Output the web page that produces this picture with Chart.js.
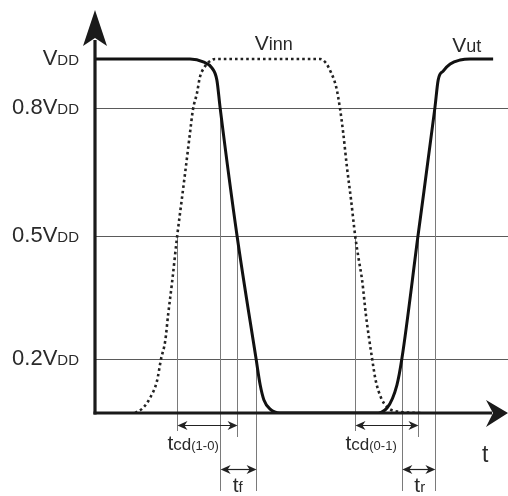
<!DOCTYPE html>
<html><head><meta charset="utf-8">
<script src="https://cdn.jsdelivr.net/npm/chart.js@4/dist/chart.umd.min.js"></script>
<style>html,body{margin:0;padding:0;background:#fff;}canvas{display:block;}</style>
</head><body>
<canvas id="c" width="508" height="496"></canvas>
<script>
// Time in arbitrary units, voltage as fraction of VDD (diagram scale)
const voutT = [0, 23.0, 26.2, 28.3, 29.5, 30.3, 34.4, 39.0, 40.0, 40.9, 42.4, 44.8, 67.8, 70.7, 73.1, 74.3, 78.2, 82.3, 83.1, 84.3, 86.0, 88.4, 90.8, 96.4];
const voutV = [1, 1, 0.992, 0.975, 0.941, 0.862, 0.5, 0.153, 0.079, 0.037, 0.011, 0, 0, 0.014, 0.079, 0.153, 0.5, 0.862, 0.941, 0.966, 0.986, 0.997, 1, 1];
const vinT = [9.7, 11.6, 13.3, 15.0, 16.0, 17.0, 17.7, 18.7, 19.9, 21.0, 22.0, 23.0, 23.7, 24.7, 25.4, 26.4, 27.6, 29.1, 54.5, 55.9, 57.1, 58.4, 59.3, 60.1, 61.0, 62.0, 63.0, 63.8, 64.7, 65.6, 67.1, 68.0, 69.3, 70.7, 72.4, 78.9];
const vinV = [0, 0.014, 0.042, 0.090, 0.153, 0.203, 0.277, 0.373, 0.5, 0.602, 0.695, 0.791, 0.856, 0.904, 0.949, 0.975, 0.992, 1, 1, 0.989, 0.963, 0.921, 0.862, 0.791, 0.695, 0.602, 0.5, 0.438, 0.373, 0.277, 0.153, 0.090, 0.042, 0.017, 0.006, 0];
const seriesNames = ['Vut', 'Vinn'];

const levelValues = [1.0, 0.862, 0.5, 0.153];
const levelLabels = ['VDD', '0.8VDD', '0.5VDD', '0.2VDD'];

const intervalNames = ['tcd(1-0)', 'tf', 'tcd(0-1)', 'tr'];
const intervalStart = [19.85, 30.3, 62.95, 74.3];
const intervalEnd = [34.4, 39.0, 78.2, 82.3];
const intervalStartLevel = [0.5, 0.862, 0.5, 0.153];
const intervalEndLevel = [0.5, 0.153, 0.5, 0.862];

const FAM = '"Liberation Sans", Arial, Helvetica, sans-serif';
const INK = '#1a1a1a';

function drawParts(ctx, parts, x, y, align) {
  let w = 0;
  parts.forEach(p => { ctx.font = p[1] + 'px ' + FAM; w += ctx.measureText(p[0]).width; });
  let cx = align === 'right' ? x - w : x;
  parts.forEach(p => { ctx.font = p[1] + 'px ' + FAM; ctx.fillText(p[0], cx, y); cx += ctx.measureText(p[0]).width; });
}
function levelParts(lab) { return [[lab.slice(0, -2), 22], ['DD', 15]]; }
function intervalParts(lab) {
  const sub = lab.slice(1);
  const k = sub.indexOf('(');
  if (k < 0) return [['t', 21], [sub, 15]];
  return [['t', 21], [sub.slice(0, k), 17], [sub.slice(k), 13]];
}
function seriesParts(lab) { return [[lab[0], 21], [lab.slice(1), 18]]; }

function smallHead(ctx, x, y, dir) {
  ctx.beginPath();
  ctx.moveTo(x, y);
  ctx.lineTo(x - dir * 10, y - 4.5);
  ctx.lineTo(x - dir * 7, y);
  ctx.lineTo(x - dir * 10, y + 4.5);
  ctx.closePath();
  ctx.fill();
}

const diagram = {
  id: 'diagram',
  beforeDatasetsDraw(chart) {
    const ctx = chart.ctx, xs = chart.scales.x, ys = chart.scales.y, a = chart.chartArea;
    ctx.save();
    ctx.lineWidth = 1;
    ctx.strokeStyle = '#5a5a5a';
    levelValues.forEach(v => {
      if (v >= 1) return;
      const py = Math.round(ys.getPixelForValue(v)) + 0.5;
      ctx.beginPath(); ctx.moveTo(a.left, py); ctx.lineTo(chart.width, py); ctx.stroke();
    });
    ctx.strokeStyle = '#7a7a7a';
    const axisY = ys.getPixelForValue(0);
    intervalNames.forEach((n, i) => {
      const row2 = n.indexOf('(') < 0;
      const pairs = [[intervalStart[i], intervalStartLevel[i], row2 ? 78 : 18],
                     [intervalEnd[i], intervalEndLevel[i], row2 ? 78 : 24]];
      pairs.forEach(p => {
        const px = Math.round(xs.getPixelForValue(p[0])) + 0.5;
        ctx.beginPath();
        ctx.moveTo(px, ys.getPixelForValue(p[1]));
        ctx.lineTo(px, axisY + p[2]);
        ctx.stroke();
      });
    });
    ctx.restore();
  },
  afterDatasetsDraw(chart) {
    const ctx = chart.ctx, xs = chart.scales.x, ys = chart.scales.y, a = chart.chartArea;
    const ox = a.left, oy = ys.getPixelForValue(0);
    ctx.save();
    // axes
    ctx.strokeStyle = INK; ctx.fillStyle = INK; ctx.lineWidth = 3.2;
    ctx.beginPath(); ctx.moveTo(ox, oy + 1.5); ctx.lineTo(ox, a.top + 30); ctx.stroke();
    ctx.beginPath(); ctx.moveTo(ox - 1.5, oy); ctx.lineTo(a.right - 16, oy); ctx.stroke();
    ctx.beginPath();
    ctx.moveTo(ox, a.top); ctx.lineTo(ox + 12, a.top + 36); ctx.lineTo(ox, a.top + 28); ctx.lineTo(ox - 12, a.top + 36);
    ctx.closePath(); ctx.fill();
    ctx.beginPath();
    ctx.moveTo(a.right, oy); ctx.lineTo(a.right - 22, oy - 13); ctx.lineTo(a.right - 15, oy); ctx.lineTo(a.right - 22, oy + 14);
    ctx.closePath(); ctx.fill();

    // interval arrows
    ctx.fillStyle = '#222'; ctx.strokeStyle = '#222'; ctx.lineWidth = 1.2;
    intervalNames.forEach((n, i) => {
      const row2 = n.indexOf('(') < 0;
      const y = oy + (row2 ? 56.5 : 12.5);
      const x1 = xs.getPixelForValue(intervalStart[i]) + 0.5, x2 = xs.getPixelForValue(intervalEnd[i]) + 0.5;
      ctx.beginPath(); ctx.moveTo(x1 + 4, y); ctx.lineTo(x2 - 4, y); ctx.stroke();
      smallHead(ctx, x1, y, -1); smallHead(ctx, x2, y, 1);
      ctx.fillStyle = '#2a2a2a';
      if (row2) drawParts(ctx, intervalParts(n), x1 + 12, oy + 79, 'left');
      else drawParts(ctx, intervalParts(n), x1 - 10, oy + 37, 'left');
      ctx.fillStyle = '#222';
    });

    // level labels
    ctx.fillStyle = '#2a2a2a';
    levelValues.forEach((v, i) => {
      drawParts(ctx, levelParts(levelLabels[i]), 79, ys.getPixelForValue(v) + 6, 'right');
    });
    // series labels
    drawParts(ctx, seriesParts(seriesNames[1]), xs.getPixelForValue(38.7), ys.getPixelForValue(1) - 9, 'left');
    drawParts(ctx, seriesParts(seriesNames[0]), xs.getPixelForValue(86.5), ys.getPixelForValue(1) - 7, 'left');
    // time axis label
    ctx.font = '23px ' + FAM;
    ctx.fillText('t', a.right - 26, oy + 49);
    ctx.restore();
  }
};

new Chart(document.getElementById('c'), {
  type: 'line',
  data: {
    datasets: [
      { label: seriesNames[0], data: voutT.map((t, i) => ({ x: t, y: voutV[i] })),
        borderColor: '#111', borderWidth: 3, pointRadius: 0, fill: false,
        cubicInterpolationMode: 'monotone', borderJoinStyle: 'round' },
      { label: seriesNames[1], data: vinT.map((t, i) => ({ x: t, y: vinV[i] })),
        borderColor: '#222', borderWidth: 2.6, borderDash: [2.6, 3], borderCapStyle: 'butt',
        pointRadius: 0, fill: false, cubicInterpolationMode: 'monotone' }
    ]
  },
  options: {
    responsive: false, animation: false, devicePixelRatio: 1,
    layout: { padding: { left: 95, right: 0, top: 10, bottom: 83 } },
    plugins: { legend: { display: false }, tooltip: { enabled: false } },
    scales: {
      x: { type: 'linear', min: 0, max: 100, display: false },
      y: { type: 'linear', min: 0, max: 1.1384, display: false }
    }
  },
  plugins: [diagram]
});
</script>
</body></html>
